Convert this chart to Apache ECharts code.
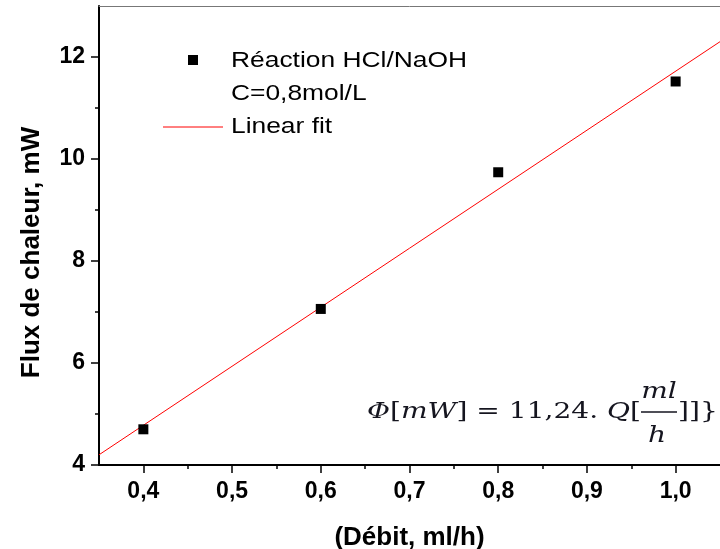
<!DOCTYPE html>
<html>
<head>
<meta charset="utf-8">
<script src="https://cdn.jsdelivr.net/npm/echarts@6/dist/echarts.min.js"></script>
<style>html,body{margin:0;padding:0;background:#fff}#c{width:720px;height:549px}</style>
</head>
<body>
<div id="c"></div>
<script>
// ---- data ----
const debit = [0.4, 0.6, 0.8, 1.0];            // ml/h
const flux = [4.70, 7.06, 9.74, 11.52];         // mW
const fitDebit = [0.35, 1.05];                  // linear fit end points
const fitFlux = [4.20, 12.30];
const xMajorTicks = [0.4, 0.5, 0.6, 0.7, 0.8, 0.9, 1.0];
const xMinorTicks = [0.45, 0.55, 0.65, 0.75, 0.85, 0.95];
const yMajorTicks = [4, 6, 8, 10, 12];
const yMinorTicks = [5, 7, 9, 11];
const legendLines = ['Réaction HCl/NaOH', 'C=0,8mol/L', 'Linear fit'];
const xName = '(Débit, ml/h)';
const yName = 'Flux de chaleur, mW';

const ctx = document.createElement('canvas').getContext('2d');
function tw(font, t) { ctx.font = font; return ctx.measureText(t).width; }

const legFont = '22px "Liberation Sans"';
const legScale = 236 / tw(legFont, legendLines[0]);

const serif = '"DejaVu Serif"';
const fSize = 22;
const segs = [['i', 'Φ'], ['n', '['], ['i', 'mW'], ['n', '] = 11,24. '], ['i', 'Q'], ['n', '[']];
let segW = 0;
segs.forEach(s => { segW += tw((s[0] === 'i' ? 'italic ' : '') + fSize + 'px ' + serif, s[1]); });
const fScale = 274 / segW;
const formulaText = segs.map(s => '{' + s[0] + '|' + s[1] + '}').join('');
const fColor = '#15151f';
const richF = {
  i: { fontFamily: serif, fontStyle: 'italic', fontSize: fSize, fill: fColor },
  n: { fontFamily: serif, fontSize: fSize, fill: fColor }
};

const labelFont = { fontFamily: 'Liberation Sans', fontWeight: 'bold', fontSize: 23, color: '#000' };
const nameFont = { fontFamily: 'Liberation Sans', fontWeight: 'bold', fontSize: 26, color: '#000' };
const xMin = 0.35, xMax = 1.05, yMin = 4, yMax = 13;

const chart = echarts.init(document.getElementById('c'));
chart.setOption({
  animation: false,
  backgroundColor: '#fff',
  grid: { left: 99, right: 0, top: 6, bottom: 84, containLabel: false, outerBoundsMode: 'none' },
  xAxis: [
    {
      type: 'value', position: 'bottom', min: xMin, max: xMax,
      axisLine: { onZero: false, lineStyle: { color: '#000', width: 2 } },
      axisTick: { customValues: xMajorTicks, length: 8, lineStyle: { color: '#000', width: 1.5 } },
      axisLabel: Object.assign({ customValues: xMajorTicks, margin: 15,
        formatter: v => v.toFixed(1).replace('.', ',') }, labelFont),
      splitLine: { show: false },
      name: xName, nameLocation: 'middle', nameGap: 60, nameTextStyle: nameFont
    },
    {
      type: 'value', position: 'bottom', min: xMin, max: xMax,
      axisLine: { show: false },
      axisTick: { customValues: xMinorTicks, length: 4, lineStyle: { color: '#000', width: 1.5 } },
      axisLabel: { show: false }, splitLine: { show: false }
    },
    {
      type: 'value', position: 'top', min: xMin, max: xMax,
      axisLine: { onZero: false, lineStyle: { color: '#777', width: 1 } },
      axisTick: { show: false }, axisLabel: { show: false }, splitLine: { show: false }
    }
  ],
  yAxis: [
    {
      type: 'value', position: 'left', min: yMin, max: yMax,
      axisLine: { show: true, onZero: false, lineStyle: { color: '#000', width: 2 } },
      axisTick: { show: true, customValues: yMajorTicks, length: 8, lineStyle: { color: '#000', width: 1.5 } },
      axisLabel: Object.assign({ customValues: yMajorTicks, margin: 14 }, labelFont),
      splitLine: { show: false },
      name: yName, nameLocation: 'middle', nameGap: 54,
      nameTextStyle: Object.assign({ padding: [0, 34, 0, 0] }, nameFont)
    },
    {
      type: 'value', position: 'left', min: yMin, max: yMax,
      axisLine: { show: false },
      axisTick: { show: true, customValues: yMinorTicks, length: 4, lineStyle: { color: '#000', width: 1.5 } },
      axisLabel: { show: false }, splitLine: { show: false }
    }
  ],
  series: [
    {
      type: 'line', name: 'Linear fit', xAxisIndex: 0, yAxisIndex: 0,
      data: fitDebit.map((x, i) => [x, fitFlux[i]]),
      showSymbol: false, symbol: 'none', lineStyle: { color: '#ff0000', width: 1 }, z: 2, silent: true
    },
    {
      type: 'scatter', name: legendLines[0], xAxisIndex: 0, yAxisIndex: 0,
      data: debit.map((x, i) => [x, flux[i]]),
      symbol: 'rect', symbolSize: 10, itemStyle: { color: '#000', opacity: 1 }, z: 3
    }
  ],
  graphic: [
    { type: 'rect', shape: { x: 188, y: 55, width: 10, height: 10 }, style: { fill: '#000' } },
    { type: 'line', shape: { x1: 163, y1: 127, x2: 223, y2: 127 }, style: { stroke: '#ff0000', lineWidth: 1 } },
    { type: 'text', x: 231, y: 61, scaleX: legScale, style: { text: legendLines[0], font: legFont, fill: '#000', textVerticalAlign: 'middle', verticalAlign: 'middle' } },
    { type: 'text', x: 231, y: 94, scaleX: legScale, style: { text: legendLines[1], font: legFont, fill: '#000', textVerticalAlign: 'middle', verticalAlign: 'middle' } },
    { type: 'text', x: 231, y: 127, scaleX: legScale, style: { text: legendLines[2], font: legFont, fill: '#000', textVerticalAlign: 'middle', verticalAlign: 'middle' } },
    { type: 'text', x: 367, y: 412, scaleX: fScale, style: { text: formulaText, rich: richF, fill: fColor, fontSize: fSize, fontFamily: serif, textVerticalAlign: 'middle', verticalAlign: 'middle' } },
    { type: 'text', x: 659, y: 392, scaleX: fScale, style: { text: 'ml', font: 'italic ' + fSize + 'px ' + serif, fill: fColor, textAlign: 'center', align: 'center', textVerticalAlign: 'middle', verticalAlign: 'middle' } },
    { type: 'line', shape: { x1: 641, y1: 412, x2: 677, y2: 412 }, style: { stroke: fColor, lineWidth: 1.4 } },
    { type: 'text', x: 657, y: 436, scaleX: fScale, style: { text: 'h', font: 'italic ' + fSize + 'px ' + serif, fill: fColor, textAlign: 'center', align: 'center', textVerticalAlign: 'middle', verticalAlign: 'middle' } },
    { type: 'text', x: 678, y: 412, scaleX: fScale, style: { text: ']]}', font: fSize + 'px ' + serif, fill: fColor, textVerticalAlign: 'middle', verticalAlign: 'middle' } }
  ]
});
</script>
</body>
</html>
